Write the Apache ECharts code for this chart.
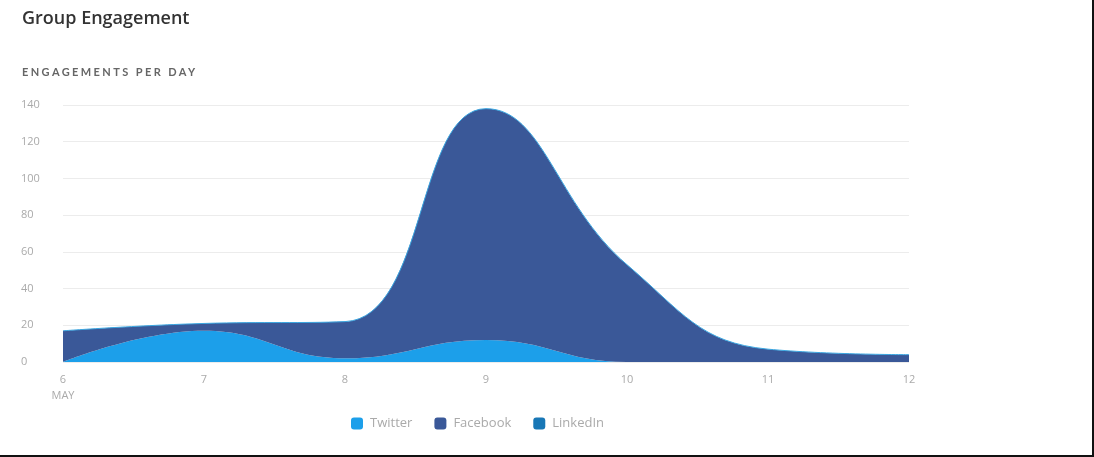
<!DOCTYPE html>
<html>
<head>
<meta charset="utf-8">
<script src="https://cdn.jsdelivr.net/npm/echarts@6/dist/echarts.min.js"></script>
<style>
  html, body { margin: 0; padding: 0; background: #fff; }
  #wrap { position: relative; width: 1094px; height: 457px; box-sizing: border-box; border-right: 2px solid #111; border-bottom: 2px solid #111; overflow: hidden; }
  #chart { position: absolute; left: 0; top: 0; width: 1094px; height: 457px; }
  #sub { position: absolute; left: 22px; top: 65px; font-family: Lato, "Open Sans", sans-serif; font-size: 11px; font-weight: 700; letter-spacing: 2.4px; color: #666; z-index: 2; }
</style>
</head>
<body>
<div id="wrap">
  <div id="chart"></div>
  <div id="sub">ENGAGEMENTS PER DAY</div>
</div>
<script>
const categories = ['6', '7', '8', '9', '10', '11', '12'];
const twitter = [0, 17, 2, 12, 0, 0, 0];
const facebook = [17, 4, 20, 126, 53, 7, 4];
const linkedin = [0, 0, 0, 0, 0, 0, 0];
const yTicks = [0, 20, 40, 60, 80, 100, 120, 140];

const chart = echarts.init(document.getElementById('chart'), null, { renderer: 'canvas' });
chart.setOption({
  animation: false,
  title: {
    text: 'Group Engagement',
    left: 17, top: 5,
    textStyle: { fontFamily: 'Open Sans', fontSize: 18, fontWeight: 600, color: '#333' }
  },
  legend: {
    bottom: 22, left: 346,
    icon: 'roundRect',
    itemWidth: 12, itemHeight: 12, itemGap: 22,
    textStyle: { fontFamily: 'Open Sans', fontSize: 13, color: '#aaa', padding: [0, 0, 0, 2] },
    data: ['Twitter', 'Facebook', 'LinkedIn']
  },
  grid: { left: 63, right: 185, top: 105, bottom: 95, containLabel: false },
  xAxis: {
    type: 'category',
    data: categories,
    boundaryGap: false,
    axisLine: { show: false },
    axisTick: { show: false },
    axisLabel: {
      color: '#aaa', fontFamily: 'Open Sans', fontSize: 11, margin: 10, lineHeight: 16,
      formatter: (v, i) => i === 0 ? v + '\nMAY' : v
    }
  },
  yAxis: {
    type: 'value',
    min: yTicks[0], max: yTicks[yTicks.length - 1], interval: 20,
    axisLine: { show: false },
    axisTick: { show: false },
    axisLabel: { color: '#aaa', fontFamily: 'Open Sans', fontSize: 11, align: 'left', margin: 42 },
    splitLine: { lineStyle: { color: '#ececec', width: 1 } }
  },
  series: [
    {
      name: 'Twitter', type: 'line', stack: 'total', smooth: 0.45, symbol: 'none',
      data: twitter,
      itemStyle: { color: '#1c9fea' },
      lineStyle: { width: 0 },
      areaStyle: { color: '#1c9fea', opacity: 1 }
    },
    {
      name: 'Facebook', type: 'line', stack: 'total', smooth: 0.45, symbol: 'none',
      data: facebook,
      itemStyle: { color: '#3a5898' },
      lineStyle: { width: 0 },
      areaStyle: { color: '#3a5898', opacity: 1 }
    },
    {
      name: 'LinkedIn', type: 'line', stack: 'total', smooth: 0.45, symbol: 'none',
      data: linkedin,
      itemStyle: { color: '#1877b6' },
      lineStyle: { width: 1, color: '#3aa6e0' },
      areaStyle: { color: '#1877b6', opacity: 1 }
    }
  ]
});
</script>
</body>
</html>
